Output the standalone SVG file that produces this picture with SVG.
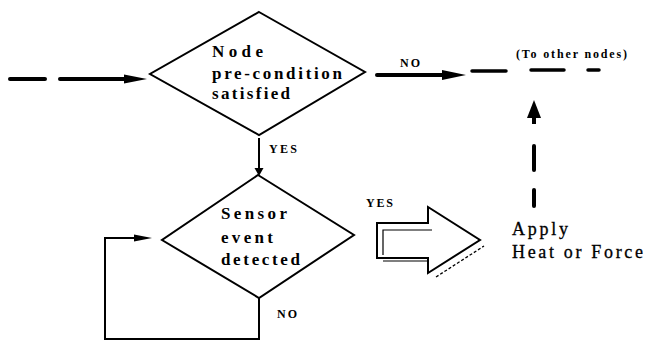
<svg xmlns="http://www.w3.org/2000/svg" width="646" height="341" viewBox="0 0 646 341">
<style>
.shape{fill:#fff;stroke:#000;stroke-width:2;stroke-linejoin:miter}
.thick{stroke:#000;stroke-width:4;stroke-linecap:round;fill:none}
.thin{stroke:#000;stroke-width:2;fill:none}
.head{fill:#000;stroke:none}
.big{font-family:"Liberation Serif","Times New Roman",serif;font-weight:bold;font-size:17px;fill:#000}
.plain{font-family:"Liberation Serif","Times New Roman",serif;font-size:18px;fill:#000;stroke:#000;stroke-width:0.3}
.sm{font-family:"Liberation Serif","Times New Roman",serif;font-weight:bold;font-size:12px;fill:#000}
</style>
<rect width="646" height="341" fill="#fff"/>
<g id="connectors">
  <line class="thick" x1="10" y1="79" x2="45" y2="79"/>
  <line class="thick" x1="60" y1="79" x2="128" y2="79"/>
  <polygon class="head" points="124,74.5 147,79 124,83.5"/>
  <line class="thick" x1="377" y1="75" x2="446" y2="75"/>
  <polygon class="head" points="442,70 466,75 442,80"/>
  <text class="sm" x="400" y="67" textLength="20" lengthAdjust="spacing">NO</text>
  <line class="thick" x1="472" y1="71" x2="506" y2="71" style="stroke-width:3.5"/>
  <line class="thick" x1="531" y1="70" x2="564" y2="70" style="stroke-width:3.5"/>
  <line class="thick" x1="588" y1="70" x2="599" y2="70" style="stroke-width:3.5"/>
  <polygon class="head" points="527,118 534,100 541,118"/>
  <line class="thick" x1="534" y1="116" x2="534" y2="124" style="stroke-linecap:butt"/>
  <line class="thick" x1="534" y1="146" x2="534" y2="170"/>
  <line class="thick" x1="534" y1="190" x2="534" y2="206"/>
  <line class="thin" x1="259" y1="138" x2="259" y2="170"/>
  <polygon class="head" points="254.5,168 259,176 263.5,168"/>
  <text class="sm" x="269" y="153" textLength="28" lengthAdjust="spacing">YES</text>
  <path class="thin" d="M259 298 V339 H105 V238 H138"/>
  <polygon class="head" points="134,234.5 152,238 134,241.5"/>
  <text class="sm" x="277" y="318" textLength="20" lengthAdjust="spacing">NO</text>
  <text class="sm" x="366" y="207" textLength="27" lengthAdjust="spacing">YES</text>
</g>
<g id="node-precondition">
  <polygon class="shape" points="259,12 365,72 259,135 150,74"/>
  <text class="big" x="212" y="57" textLength="51" lengthAdjust="spacing">Node</text>
  <text class="big" x="212" y="79" textLength="130" lengthAdjust="spacing">pre-condition</text>
  <text class="big" x="212" y="99" textLength="78" lengthAdjust="spacing">satisfied</text>
</g>
<g id="node-sensor">
  <polygon class="shape" points="258,175 354,235 259,298 162,240"/>
  <text class="big" x="221" y="219" textLength="66" lengthAdjust="spacing">Sensor</text>
  <text class="big" x="221" y="243" textLength="52" lengthAdjust="spacing">event</text>
  <text class="big" x="221" y="265" textLength="79" lengthAdjust="spacing">detected</text>
</g>
<g id="block-arrow">
  <path class="shape" d="M377 223 H428 V207 L480 240 L428 273 V258 H377 Z"/>
  <path d="M383 255 V230 H432" fill="none" stroke="#000" stroke-width="1.2"/>
  <line x1="383" y1="261" x2="428" y2="261" stroke="#000" stroke-width="1.2"/>
  <line x1="436" y1="277" x2="484" y2="246" stroke="#000" stroke-width="1.3" stroke-dasharray="3 2"/>
</g>
<g id="node-apply">
  <text class="plain" x="512" y="235" textLength="56" lengthAdjust="spacing">Apply</text>
  <text class="plain" x="512" y="258" textLength="131" lengthAdjust="spacing">Heat or Force</text>
</g>
<g id="node-other">
  <text class="sm" x="516" y="58" textLength="111" lengthAdjust="spacing">(To other nodes)</text>
</g>
</svg>
